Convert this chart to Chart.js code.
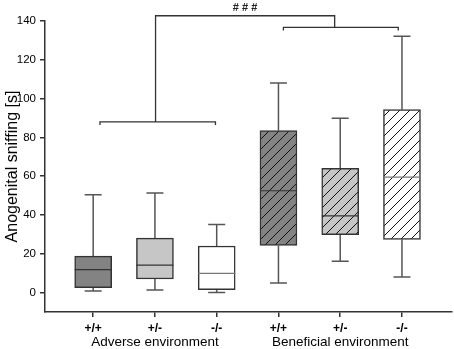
<!DOCTYPE html>
<html>
<head>
<meta charset="utf-8">
<script src="https://cdn.jsdelivr.net/npm/chart.js@4.4.1/dist/chart.umd.min.js"></script>
<style>
    html, body { margin: 0; padding: 0; background: #fff; }
    #wrap { width: 454px; height: 349px; }
</style>
</head>
<body>
<div id="wrap"><canvas id="boxChart" width="454" height="349"></canvas></div>
<script>
// Data
const genotypes = ['+/+', '+/-', '-/-', '+/+', '+/-', '-/-'];
const groups = ['Adverse environment', 'Beneficial environment'];
const groupCenters = [1, 4];
const whiskerMin = [0.8, 1.3, 0, 5.0, 16.1, 8.0];
const q1 = [2.6, 7.0, 1.5, 24.3, 29.8, 27.4];
const median = [11.8, 14.2, 9.9, 52.5, 39.6, 59.5];
const q3 = [18.8, 28.1, 24.0, 83.5, 64.1, 94.3];
const whiskerMax = [50.5, 51.3, 35.1, 108, 89.9, 132.1];
const yTicks = [0, 20, 40, 60, 80, 100, 120, 140];

// significance brackets (data units)
const adverseBracket = { from: 0.11, to: 1.98, y: 88 };
const beneficialBracket = { from: 3.08, to: 4.94, y: 136.7 };
const topBracket = { from: 1.01, to: 3.91, y: 142.7, label: '# # #' };

const fills = ['#838383', '#c6c6c6', '#ffffff', '#838383', '#c6c6c6', '#ffffff'];
const hatched = [false, false, false, true, true, true];

function hatchPattern(color) {
    const c = document.createElement('canvas');
    c.width = 10;
    c.height = 10;
    const g = c.getContext('2d');
    g.fillStyle = color;
    g.fillRect(0, 0, 10, 10);
    g.strokeStyle = '#111';
    g.lineWidth = 1;
    g.beginPath();
    g.moveTo(0, 10); g.lineTo(10, 0);
    g.moveTo(-1, 1); g.lineTo(1, -1);
    g.moveTo(9, 11); g.lineTo(11, 9);
    g.stroke();
    return g.createPattern(c, 'repeat');
}

const ctx = document.getElementById('boxChart').getContext('2d');
const bg = fills.map((f, i) => hatched[i] ? hatchPattern(f) : f);

// whiskers + caps, drawn behind the boxes
const whiskerPlugin = {
    id: 'whiskers',
    beforeDatasetsDraw(chart) {
        const { ctx, scales: { x, y } } = chart;
        ctx.save();
        ctx.strokeStyle = '#555';
        ctx.lineWidth = 1.5;
        genotypes.forEach((_, i) => {
            const px = x.getPixelForValue(i);
            const half = 8.5;
            ctx.beginPath();
            ctx.moveTo(px, y.getPixelForValue(q3[i]));
            ctx.lineTo(px, y.getPixelForValue(whiskerMax[i]));
            ctx.moveTo(px - half, y.getPixelForValue(whiskerMax[i]));
            ctx.lineTo(px + half, y.getPixelForValue(whiskerMax[i]));
            ctx.moveTo(px, y.getPixelForValue(q1[i]));
            ctx.lineTo(px, y.getPixelForValue(whiskerMin[i]));
            ctx.moveTo(px - half, y.getPixelForValue(whiskerMin[i]));
            ctx.lineTo(px + half, y.getPixelForValue(whiskerMin[i]));
            ctx.stroke();
        });
        ctx.restore();
    },
    afterDatasetsDraw(chart) {
        const { ctx, scales: { x, y } } = chart;
        const meta = chart.getDatasetMeta(0);
        ctx.save();
        ctx.lineWidth = 1.2;
        meta.data.forEach((bar, i) => {
            const py = y.getPixelForValue(median[i]);
            ctx.strokeStyle = fills[i] === '#ffffff' ? '#777' : '#333';
            ctx.beginPath();
            ctx.moveTo(bar.x - bar.width / 2, py);
            ctx.lineTo(bar.x + bar.width / 2, py);
            ctx.stroke();
        });
        ctx.restore();
    }
};

// brackets, ### and group captions
const annotatePlugin = {
    id: 'annotate',
    afterDraw(chart) {
        const { ctx, scales: { x, y } } = chart;
        const X = v => x.getPixelForValue(v);
        const Y = v => y.getPixelForValue(v);
        ctx.save();
        ctx.strokeStyle = '#333';
        ctx.lineWidth = 1.3;

        [adverseBracket, beneficialBracket].forEach(b => {
            ctx.beginPath();
            ctx.moveTo(X(b.from), Y(b.y) + 3);
            ctx.lineTo(X(b.from), Y(b.y));
            ctx.lineTo(X(b.to), Y(b.y));
            ctx.lineTo(X(b.to), Y(b.y) + 3);
            ctx.stroke();
        });

        ctx.beginPath();
        ctx.moveTo(X(topBracket.from), Y(adverseBracket.y));
        ctx.lineTo(X(topBracket.from), Y(topBracket.y));
        ctx.lineTo(X(topBracket.to), Y(topBracket.y));
        ctx.lineTo(X(topBracket.to), Y(beneficialBracket.y));
        ctx.stroke();

        ctx.fillStyle = '#222';
        ctx.font = 'bold 11px "Liberation Sans", Arial, sans-serif';
        ctx.textAlign = 'center';
        ctx.textBaseline = 'bottom';
        ctx.fillText(topBracket.label, (X(topBracket.from) + X(topBracket.to)) / 2, Y(topBracket.y) - 2);

        ctx.fillStyle = '#000';
        ctx.font = '13.5px "Liberation Sans", Arial, sans-serif';
        ctx.textBaseline = 'middle';
        groups.forEach((g, i) => {
            ctx.fillText(g, X(groupCenters[i]), 342);
        });
        ctx.restore();
    }
};

const boxChart = new Chart(ctx, {
    type: 'bar',
    data: {
        datasets: [{
            data: genotypes.map((_, i) => ({ x: i, y: [q1[i], q3[i]] })),
            backgroundColor: bg,
            borderColor: '#333',
            borderWidth: 1.5,
            borderSkipped: false,
            barThickness: 37
        }]
    },
    options: {
        responsive: false,
        animation: false,
        layout: { padding: { top: 21, right: 2, left: 0, bottom: 0 } },
        plugins: {
            legend: { display: false },
            tooltip: { enabled: false }
        },
        scales: {
            x: {
                type: 'linear',
                min: -0.78,
                max: 5.81,
                offset: false,
                afterBuildTicks: axis => { axis.ticks = genotypes.map((_, i) => ({ value: i })); },
                afterFit: axis => { axis.height = 37; },
                border: { display: true, color: '#333', width: 1.5 },
                grid: { offset: false, drawOnChartArea: false, drawTicks: true, tickLength: 5, color: '#333', lineWidth: 1.5 },
                ticks: {
                    callback: v => genotypes[v],
                    color: '#000',
                    padding: 4,
                    maxRotation: 0,
                    autoSkip: false,
                    font: { family: '"Liberation Sans", Arial, sans-serif', size: 12, weight: 'bold' }
                }
            },
            y: {
                min: -10,
                max: 140,
                afterBuildTicks: axis => { axis.ticks = yTicks.map(v => ({ value: v })); },
                afterFit: axis => { axis.width = 45; },
                border: { display: true, color: '#333', width: 1.5 },
                grid: { drawOnChartArea: false, drawTicks: true, tickLength: 5, color: '#333', lineWidth: 1.5 },
                ticks: {
                    color: '#000',
                    padding: 4,
                    font: { family: '"Liberation Sans", Arial, sans-serif', size: 11.5 }
                },
                title: {
                    display: true,
                    text: 'Anogenital sniffing [s]',
                    color: '#000',
                    padding: { top: 3, bottom: 0 },
                    font: { family: '"Liberation Sans", Arial, sans-serif', size: 16 }
                }
            }
        }
    },
    plugins: [whiskerPlugin, annotatePlugin]
});
</script>
</body>
</html>
